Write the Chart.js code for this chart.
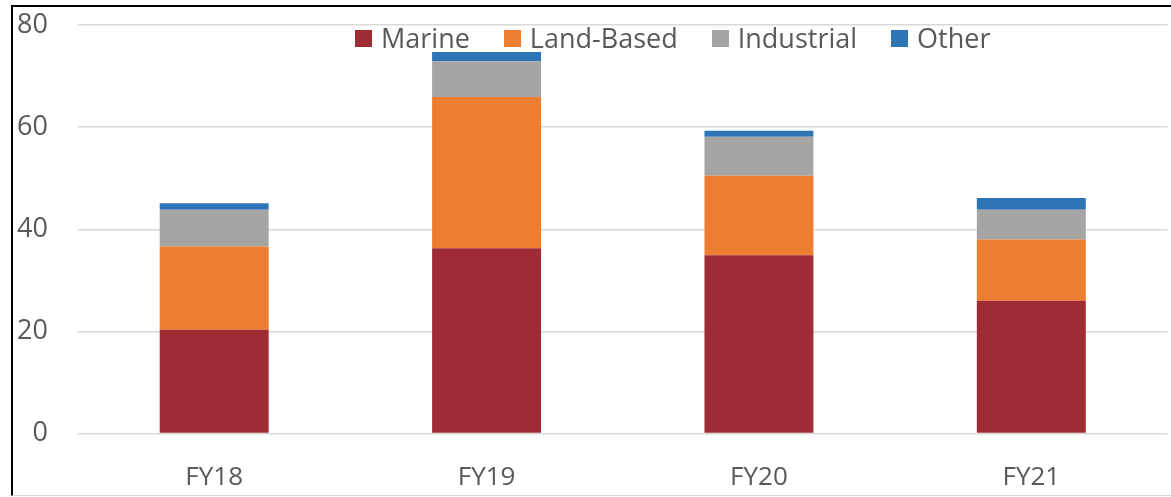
<!DOCTYPE html>
<html>
<head>
<meta charset="utf-8">
<script src="https://cdn.jsdelivr.net/npm/chart.js@4/dist/chart.umd.min.js"></script>
<style>
  body { margin: 0; background: #fff; }
  .contenedor { position: relative; width: 1171px; height: 497px; overflow: hidden; }
  .marco {
    position: absolute; left: 11px; top: 5px; right: -4px; bottom: 1px;
    border-left: 2px solid #000; border-top: 2px solid #000; border-bottom: 1px solid #d9d9d9;
  }
  #grafica { position: absolute; left: 0; top: 0; }
  #leyenda {
    position: absolute; left: 355px; top: 22px;
    display: flex; gap: 34px;
    font-family: 'Open Sans', sans-serif; font-size: 27px; line-height: 32px; color: #595959;
  }
  .item { display: flex; align-items: center; }
  .caja { width: 17px; height: 17px; margin-right: 9px; }
</style>
</head>
<body>
<div class="contenedor">
  <div class="marco"></div>
  <canvas id="grafica" width="1171" height="497"></canvas>
  <div id="leyenda"></div>
</div>
<script>
// datos
const categorias = ['FY18', 'FY19', 'FY20', 'FY21'];
const marine = [20.3, 36.3, 34.9, 26.0];
const landBased = [16.3, 29.6, 15.6, 12.0];
const industrial = [7.2, 7.0, 7.6, 5.8];
const other = [1.3, 1.8, 1.2, 2.3];
const ticksY = [0, 20, 40, 60, 80];

const colores = ['#9F2B35', '#ED7D31', '#A5A5A5', '#2E75B6'];
const textoGris = '#595959';

let datasets = [
  { label: 'Marine', data: marine, backgroundColor: colores[0] },
  { label: 'Land-Based', data: landBased, backgroundColor: colores[1] },
  { label: 'Industrial', data: industrial, backgroundColor: colores[2] },
  { label: 'Other', data: other, backgroundColor: colores[3] }
];

let ctx = document.getElementById('grafica').getContext('2d');
new Chart(ctx, {
  type: 'bar',
  data: {
    labels: categorias,
    datasets: datasets.map(d => ({ ...d, barPercentage: 0.4, categoryPercentage: 1.0, borderWidth: 0 }))
  },
  options: {
    responsive: false,
    animation: false,
    layout: { padding: { top: 25, right: 3.5, left: 0, bottom: 0 } },
    plugins: {
      legend: { display: false },
      tooltip: { enabled: false }
    },
    scales: {
      x: {
        stacked: true,
        grid: { display: false },
        border: { display: false },
        ticks: {
          color: textoGris,
          padding: 20,
          font: { family: 'Open Sans', size: 26 }
        },
        afterFit: s => { s.height = 63.5; s.paddingLeft = 0; s.paddingRight = 0; }
      },
      y: {
        stacked: true,
        min: 0,
        max: 80,
        afterBuildTicks: s => { s.ticks = ticksY.map(v => ({ value: v })); },
        grid: { color: '#D9D9D9', lineWidth: 1.5, drawTicks: false },
        border: { display: false },
        ticks: {
          color: textoGris,
          padding: 30,
          font: { family: 'Open Sans', size: 27 }
        },
        afterFit: s => { s.width = 78; s.paddingTop = 0; s.paddingBottom = 0; }
      }
    }
  }
});

// leyenda en html
let leyenda = document.getElementById('leyenda');
let html = '';
for (let d of datasets) {
  html += `<div class="item"><span class="caja" style="background:${d.backgroundColor}"></span>${d.label}</div>`;
}
leyenda.innerHTML = html;
</script>
</body>
</html>
